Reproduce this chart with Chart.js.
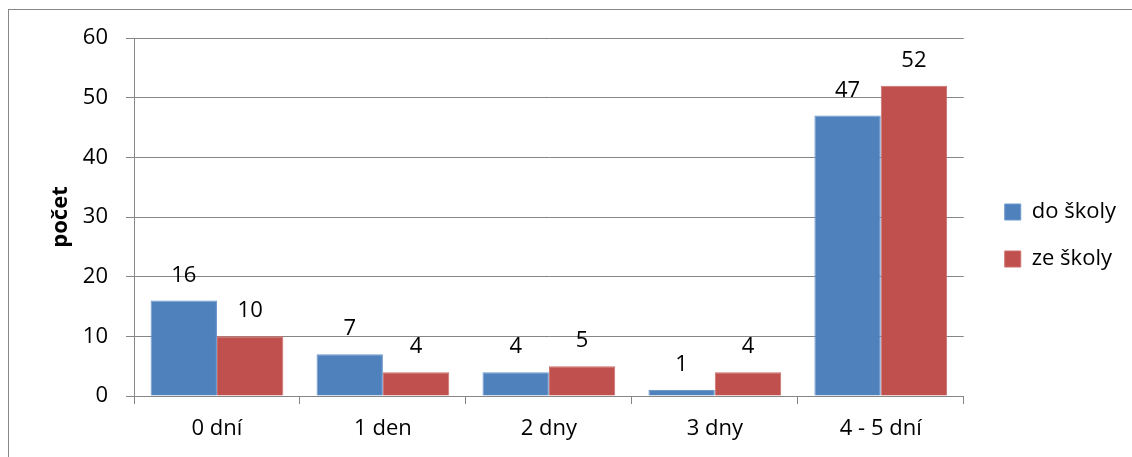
<!DOCTYPE html>
<html>
<head>
<meta charset="utf-8">
<script src="https://cdn.jsdelivr.net/npm/chart.js@4/dist/chart.umd.min.js"></script>
<style>
  html, body { margin: 0; padding: 0; background: #fff; overflow: hidden; }
  #wrap { position: relative; width: 1132px; height: 457px; }
  #frame { position: absolute; left: 8px; top: 9px; width: 2000px; height: 2000px;
           border: 1px solid #878787; box-sizing: border-box; }
  canvas { position: absolute; left: 0; top: 0; }
</style>
</head>
<body>
<div id="wrap">
  <div id="frame"></div>
  <canvas id="chart" width="1132" height="457"></canvas>
</div>
<script>
// Days per week, counts for trips to school and from school
const categories = ['0 dní', '1 den', '2 dny', '3 dny', '4 - 5 dní'];
const toSchool = [16, 7, 4, 1, 47];
const fromSchool = [10, 4, 5, 4, 52];
const seriesNames = ['do školy', 'ze školy'];
const yTicks = [0, 10, 20, 30, 40, 50, 60];

const FONT = '"Open Sans", "Noto Sans", sans-serif';
const GRID = '#868686';

// Value labels above each bar
const valueLabels = {
  id: 'valueLabels',
  afterDatasetsDraw(chart) {
    const ctx = chart.ctx;
    ctx.save();
    ctx.font = '22px ' + FONT;
    ctx.fillStyle = '#000';
    ctx.textAlign = 'center';
    ctx.textBaseline = 'alphabetic';
    chart.data.datasets.forEach((ds, i) => {
      chart.getDatasetMeta(i).data.forEach((bar, j) => {
        ctx.fillText(String(ds.data[j]), bar.x, bar.y - 19);
      });
    });
    ctx.restore();
  }
};

new Chart(document.getElementById('chart'), {
  type: 'bar',
  data: {
    labels: categories,
    datasets: [
      { label: seriesNames[0], data: toSchool, backgroundColor: '#4F81BD',
        borderColor: '#6F98CB', borderWidth: 1 },
      { label: seriesNames[1], data: fromSchool, backgroundColor: '#C0504D',
        borderColor: '#CC6E6B', borderWidth: 1 }
    ]
  },
  options: {
    responsive: false,
    animation: false,
    events: [],
    categoryPercentage: 0.8,
    barPercentage: 1.0,
    layout: { padding: { top: 38, bottom: 0, left: 0, right: 6 } },
    plugins: {
      tooltip: { enabled: false },
      legend: {
        position: 'right',
        fullSize: false,
        // empty title only reserves space above the legend entries
        title: { display: true, text: '', font: { size: 10 }, padding: { top: 25, bottom: 0 } },
        labels: {
          font: { family: FONT, size: 22 },
          color: '#000',
          boxWidth: 16,
          boxHeight: 16,
          padding: 25
        }
      }
    },
    scales: {
      x: {
        afterFit(scale) { scale.height = 61; },
        grid: { drawOnChartArea: false, drawTicks: true, tickLength: 8, color: GRID, offset: true },
        border: { color: GRID },
        ticks: { font: { family: FONT, size: 22 }, color: '#000', padding: 12 }
      },
      y: {
        min: 0, max: 60,
        afterBuildTicks(scale) { scale.ticks = yTicks.map(v => ({ value: v })); },
        afterFit(scale) { scale.width = 134; },
        grid: { color: GRID, tickLength: 8 },
        border: { color: GRID },
        ticks: { font: { family: FONT, size: 22 }, color: '#000', padding: 18 },
        title: {
          display: true, text: 'počet', color: '#000',
          font: { family: FONT, size: 22, weight: 'bold' },
          padding: { top: 48, bottom: 0 }
        }
      },
      gap: {
        position: 'right', display: true,
        afterFit(scale) { scale.width = 16; },
        grid: { display: false }, border: { display: false },
        ticks: { display: false }
      }
    }
  },
  plugins: [valueLabels]
});
</script>
</body>
</html>
